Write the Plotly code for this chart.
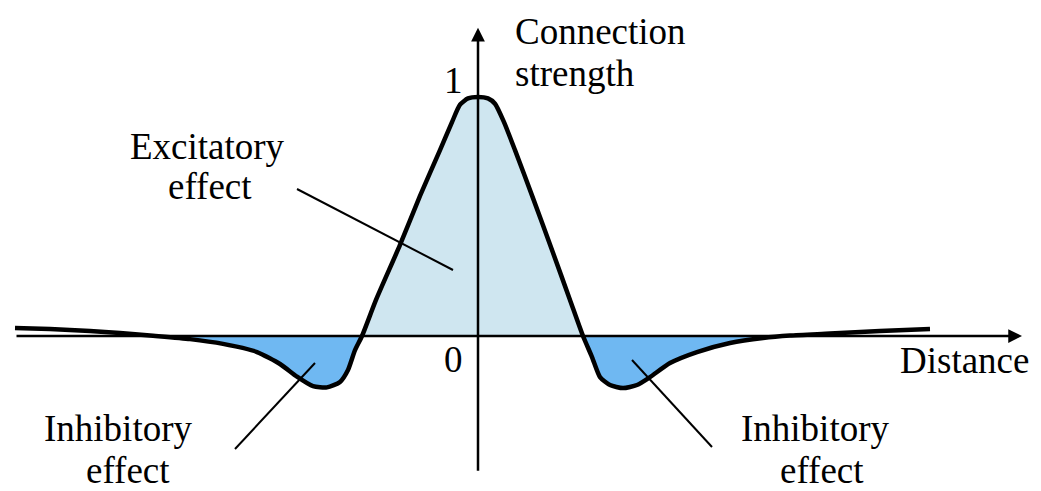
#import libraries
import numpy as np
import plotly.graph_objs as go

# connection strength vs distance
distance = [-4.63, -4.28, -3.88, -3.58, -3.28, -2.88, -2.55, -2.21, -1.98, -1.81,
            -1.65, -1.51, -1.38, -1.30, -1.23, -1.16, -1.02, -0.78, -0.58, -0.38,
            -0.26, -0.18, -0.10, 0.0, 0.10, 0.17, 0.26, 0.37, 0.55, 0.74,
            0.92, 1.05, 1.14, 1.22, 1.32, 1.45, 1.59, 1.72, 1.92, 2.19,
            2.52, 2.85, 3.12, 3.52, 4.02, 4.52]
strength = [0.033, 0.029, 0.021, 0.013, 0.002, -0.013, -0.033, -0.067, -0.117, -0.170,
            -0.210, -0.215, -0.192, -0.142, -0.059, 0.0, 0.151, 0.381, 0.586, 0.778,
            0.895, 0.968, 0.994, 1.0, 0.994, 0.972, 0.895, 0.778, 0.577, 0.360,
            0.151, 0.0, -0.088, -0.172, -0.205, -0.218, -0.205, -0.172, -0.113, -0.067,
            -0.029, -0.008, 0.002, 0.010, 0.021, 0.029]

# axis extents and tick labels
x_axis_range = [-4.63, 5.44]
y_axis_range = [-0.57, 1.29]
tick_labels = {'1': 1.0, '0': 0.0}

xs = np.array(distance)
ys = np.array(strength)

LIGHT = '#cfe6f0'
MID = '#6fb8f2'
FONT = dict(family='Liberation Serif', size=37, color='black')

plot_data = []

# excitatory part (between the two zero crossings)
pos = (xs >= -1.16) & (xs <= 1.05)
plot_data.append(go.Scatter(x=xs[pos], y=ys[pos], fill='tozeroy', fillcolor=LIGHT,
                            mode='lines', line=dict(width=0, shape='spline', smoothing=0.6),
                            hoverinfo='skip'))

# inhibitory parts
left = (xs >= -3.28) & (xs <= -1.16)
right = (xs >= 1.05) & (xs <= 3.12)
for m in [left, right]:
    plot_data.append(go.Scatter(x=xs[m], y=np.minimum(ys[m], 0), fill='tozeroy', fillcolor=MID,
                                mode='lines', line=dict(width=0, shape='spline', smoothing=0.6),
                                hoverinfo='skip'))

# the curve itself
plot_data.append(go.Scatter(x=xs, y=ys, mode='lines',
                            line=dict(color='black', width=4.5, shape='spline', smoothing=0.6)))

fig = go.Figure(data=plot_data)

# axes with arrows
annotations = [
    dict(x=x_axis_range[1], y=0, ax=x_axis_range[0], ay=0, xref='x', yref='y',
         axref='x', ayref='y', showarrow=True, arrowhead=2, arrowsize=1.1,
         arrowwidth=2.5, arrowcolor='black', text=''),
    dict(x=0, y=y_axis_range[1], ax=0, ay=y_axis_range[0], xref='x', yref='y',
         axref='x', ayref='y', showarrow=True, arrowhead=2, arrowsize=1.1,
         arrowwidth=2.5, arrowcolor='black', text=''),
]
for lab, val in tick_labels.items():
    yy = val + 0.07 if val == 1.0 else val - 0.10
    annotations.append(dict(x=-0.25, y=yy, xref='x', yref='y', text=lab, showarrow=False,
                            font=FONT, xanchor='center', yanchor='middle'))

# text labels (pixel positions converted to paper)
W, H = 1041, 491
labels = [
    ('Connection', 513, 31, 'left'),
    ('strength', 513, 74, 'left'),
    ('Distance', 964, 360, 'center'),
    ('Excitatory', 207, 146, 'center'),
    ('effect', 210, 186, 'center'),
    ('Inhibitory', 118, 428, 'center'),
    ('effect', 128, 470, 'center'),
    ('Inhibitory', 815, 428, 'center'),
    ('effect', 822, 470, 'center'),
]
for txt, px, py, anc in labels:
    annotations.append(dict(x=px / W, y=1 - py / H, xref='paper', yref='paper', text=txt,
                            showarrow=False, font=FONT, xanchor=anc, yanchor='middle'))

# leader lines
shapes = []
for x0, y0, x1, y1 in [(297, 189, 453, 270), (235, 449, 315, 363), (632, 360, 712, 447)]:
    shapes.append(dict(type='line', xref='paper', yref='paper',
                       x0=x0 / W, y0=1 - y0 / H, x1=x1 / W, y1=1 - y1 / H,
                       line=dict(color='black', width=2)))

fig.update_layout(width=W, height=H, margin=dict(l=0, r=0, t=0, b=0),
                  paper_bgcolor='white', plot_bgcolor='white', showlegend=False,
                  xaxis=dict(range=[-4.78, 5.63], visible=False, fixedrange=True),
                  yaxis=dict(range=[-0.6485, 1.4059], visible=False, fixedrange=True),
                  annotations=annotations, shapes=shapes)

# page body has a default margin, drop it so the figure sits at the corner
fig.write_html("out.html", config={'displayModeBar': False},
               post_script="document.body.style.margin='0';document.body.style.overflow='hidden';")
